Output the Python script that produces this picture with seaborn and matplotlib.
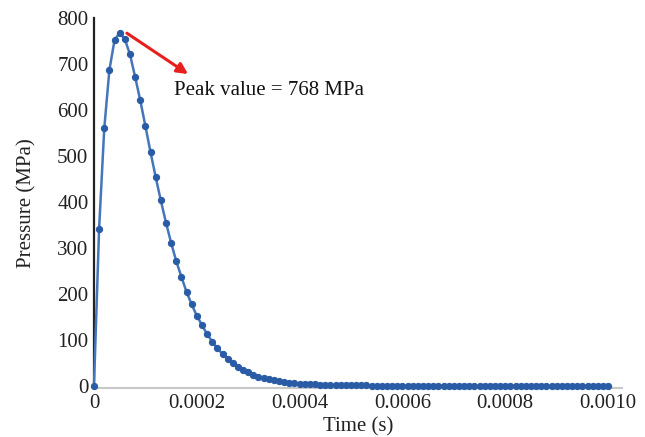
import numpy as np
import pandas as pd
import matplotlib
matplotlib.use("Agg")
import matplotlib.pyplot as plt
import seaborn as sns

# Sampling instants in microseconds (10 us step)
time_us = [
    0, 10, 20, 30, 40, 50, 60, 70, 80, 90,
    100, 110, 120, 130, 140, 150, 160, 170, 180, 190,
    200, 210, 220, 230, 240, 250, 260, 270, 280, 290,
    300, 310, 320, 330, 340, 350, 360, 370, 380, 390,
    400, 410, 420, 430, 440, 450, 460, 470, 480, 490,
    500, 510, 520, 530, 540, 550, 560, 570, 580, 590,
    600, 610, 620, 630, 640, 650, 660, 670, 680, 690,
    700, 710, 720, 730, 740, 750, 760, 770, 780, 790,
    800, 810, 820, 830, 840, 850, 860, 870, 880, 890,
    900, 910, 920, 930, 940, 950, 960, 970, 980, 990,
    1000,
]

# Pressure history (MPa)
pressure_mpa = [
    0, 342, 560, 687, 752, 768, 754, 721, 672, 621,
    565, 508, 454, 403, 355, 311, 271, 237, 204, 177,
    152, 132, 112, 96, 81, 69, 58, 49, 41, 34,
    29, 24, 20, 16.5, 13.8, 11.5, 9.6, 8.0, 6.7, 5.6,
    4.7, 3.9, 3.3, 2.7, 2.3, 1.9, 1.6, 1.3, 1.1, 0.9,
    0.8, 0.7, 0.6, 0.5, 0.4, 0.4, 0.3, 0.3, 0.2, 0.2,
    0.2, 0.1, 0.1, 0.1, 0.1, 0.1, 0.1, 0.1, 0.1, 0.1,
    0.1, 0, 0, 0, 0, 0, 0, 0, 0, 0,
    0, 0, 0, 0, 0, 0, 0, 0, 0, 0,
    0, 0, 0, 0, 0, 0, 0, 0, 0, 0,
    0,
]

x_ticks = [0, 0.0002, 0.0004, 0.0006, 0.0008, 0.0010]
x_tick_labels = ["0", "0.0002", "0.0004", "0.0006", "0.0008", "0.0010"]
y_ticks = [0, 100, 200, 300, 400, 500, 600, 700, 800]
y_tick_labels = ["0", "100", "200", "300", "400", "500", "600", "700", "800"]

df = pd.DataFrame({
    "Time (s)": np.array(time_us) * 1e-6,
    "Pressure (MPa)": pressure_mpa,
})

sns.set_theme(style="white")
plt.rcParams["font.family"] = ["Liberation Serif", "DejaVu Serif"]

fig = plt.figure(figsize=(6.45, 4.37), dpi=100)
ax = fig.add_axes([0.1457, 0.1114, 0.8186, 0.8474])

line_color = "#4576bb"
dot_color = "#2a5ca6"
sns.lineplot(
    data=df, x="Time (s)", y="Pressure (MPa)", ax=ax,
    color=line_color, linewidth=1.8,
    marker="o", markersize=4.5,
    markerfacecolor=dot_color, markeredgecolor=dot_color,
    zorder=3, clip_on=False,
)

ax.set_xlim(0, 0.001027)
ax.set_ylim(-5.7, 800)

ax.set_xticks(x_ticks)
ax.set_xticklabels(x_tick_labels)
ax.set_yticks(y_ticks)
ax.set_yticklabels(y_tick_labels)
ax.tick_params(axis="both", length=0, labelsize=15, colors="#222222")
ax.tick_params(axis="y", pad=4)
ax.tick_params(axis="x", pad=4)

ax.set_xlabel("Time (s)", fontsize=15, color="#222222", labelpad=3)
ax.set_ylabel("Pressure (MPa)", fontsize=15, color="#222222", labelpad=15)

for side in ("top", "right"):
    ax.spines[side].set_visible(False)
ax.spines["left"].set_color("#222222")
ax.spines["left"].set_linewidth(1.6)
ax.spines["bottom"].set_color("#c8c8c8")
ax.spines["bottom"].set_linewidth(1.5)

# Peak annotation
peak_idx = int(np.argmax(pressure_mpa))
peak_val = pressure_mpa[peak_idx]
peak_t = time_us[peak_idx] * 1e-6
ax.annotate(
    "", xy=(1.83e-4, 678), xytext=(peak_t + 1.4e-5, peak_val - 1),
    arrowprops=dict(arrowstyle="-|>", color="#e8201c", lw=2.2,
                    mutation_scale=16, shrinkA=0, shrinkB=0),
)
ax.text(1.556e-4, 643, f"Peak value = {peak_val:.0f} MPa",
        fontsize=15, color="#111111", ha="left", va="center")

fig.savefig("out.png", dpi=100)
